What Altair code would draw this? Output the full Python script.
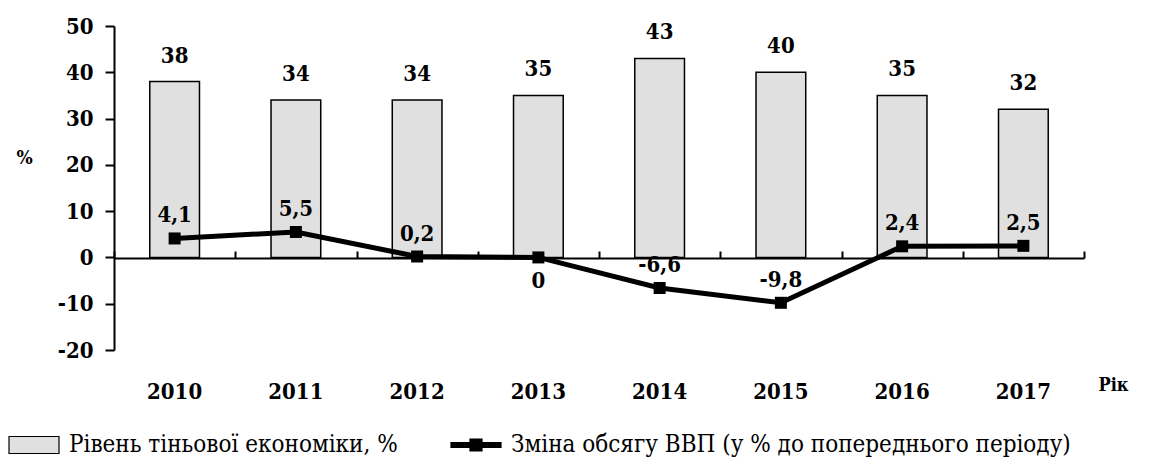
import altair as alt
import pandas as pd

years = ["2010", "2011", "2012", "2013", "2014", "2015", "2016", "2017"]
shadow = [38, 34, 34, 35, 43, 40, 35, 32]
gdp = [4.1, 5.5, 0.2, 0, -6.6, -9.8, 2.4, 2.5]
y_ticks = [-20, -10, 0, 10, 20, 30, 40, 50]
s1 = "Рівень тіньової економіки, %"
s2 = "Зміна обсягу ВВП (у % до попереднього періоду)"

df = pd.DataFrame({"year": years, "shadow": shadow, "gdp": gdp, "series": [s1] * len(years)})

FONT = "DejaVu Serif Condensed, DejaVu Serif"
FS = 22

y_scale = alt.Scale(domain=[-20, 50], nice=False, zero=False)

rect_path = "M-1,-0.34H1V0.34H-1Z"
line_path = "M-1,-0.1H1V0.1H-1Z M-0.24,-0.24H0.24V0.24H-0.24Z"

bars = alt.Chart(df).mark_bar(
    stroke="black", strokeWidth=1.5, width=alt.RelativeBandSize(0.41)
).encode(
    x=alt.X("year:O", scale=alt.Scale(paddingInner=0, paddingOuter=0),
            axis=alt.Axis(orient="bottom", title="Рік", domain=False, ticks=False,
                          labelAngle=0, labelFont=FONT, labelFontSize=FS,
                          labelFontWeight="bold", labelColor="black", labelPadding=31,
                          titleFont=FONT, titleFontSize=18, titleFontWeight="bold",
                          titleColor="black", titleX=999, titleY=35,
                          titleAlign="center", titleBaseline="middle")),
    y=alt.Y("shadow:Q", scale=y_scale,
            axis=alt.Axis(values=y_ticks, title="%", titleAngle=0, titleX=-90, titleY=131,
                          titleFont=FONT, titleFontSize=19, titleFontWeight="bold",
                          titleColor="black", titleAlign="center", titleBaseline="middle",
                          labelExpr="toString(datum.value)",
                          labelFont=FONT, labelFontSize=FS, labelFontWeight="bold",
                          labelColor="black", labelPadding=12, tickSize=9, tickWidth=2,
                          tickColor="black", domainColor="black", domainWidth=2, grid=False)),
    color=alt.Color("series:N",
                    scale=alt.Scale(domain=[s1, s2], range=["#e0e0e0", "#000000"]),
                    legend=alt.Legend(
                        title=None, orient="none", legendX=-106, legendY=393,
                        direction="horizontal", columns=2, columnPadding=50,
                        symbolSize=2500,
                        symbolType={"expr": f"datum.label == '{s1}' ? '{rect_path}' : '{line_path}'"},
                        symbolStrokeColor="black", symbolStrokeWidth=1.2,
                        labelFont=FONT, labelFontSize=24, labelColor="black",
                        labelOffset=9, labelLimit=1000, padding=0)),
)

bar_text = alt.Chart(df).mark_text(
    font=FONT, fontSize=FS, fontWeight="bold", color="black", baseline="alphabetic", dy=-19
).encode(
    x=alt.X("year:O", axis=None),
    y=alt.Y("shadow:Q", scale=y_scale),
    text=alt.Text("shadow:Q"),
)

line = alt.Chart(df).mark_line(color="black", strokeWidth=5).encode(
    x=alt.X("year:O",
            axis=alt.Axis(orient="top", offset=-232, title=None, labels=False,
                          domain=True, domainColor="black", domainWidth=2,
                          ticks=True, tickBand="extent", tickSize=7, tickWidth=2,
                          tickColor="black", grid=False)),
    y=alt.Y("gdp:Q", scale=y_scale),
)

points = alt.Chart(df).mark_square(color="black", size=144, opacity=1).encode(
    x=alt.X("year:O", axis=None),
    y=alt.Y("gdp:Q", scale=y_scale),
)

gdp_text_base = alt.Chart(df).transform_calculate(
    lbl="replace(toString(datum.gdp), '.', ',')"
)

gdp_above = gdp_text_base.transform_filter("datum.gdp != 0").mark_text(
    font=FONT, fontSize=FS, fontWeight="bold", color="black", baseline="alphabetic", dy=-16
).encode(
    x=alt.X("year:O", axis=None),
    y=alt.Y("gdp:Q", scale=y_scale),
    text="lbl:N",
)

gdp_below = gdp_text_base.transform_filter("datum.gdp == 0").mark_text(
    font=FONT, fontSize=FS, fontWeight="bold", color="black", baseline="top", dy=14
).encode(
    x=alt.X("year:O", axis=None),
    y=alt.Y("gdp:Q", scale=y_scale),
    text="lbl:N",
)

chart = alt.layer(bars, bar_text, line, points, gdp_above, gdp_below).resolve_axis(
    x="independent"
).properties(
    width=970, height=324,
    autosize=alt.AutoSizeParams(type="none"),
    padding={"left": 106, "top": 18, "right": 64, "bottom": 110},
    background="white",
).configure(font=FONT).configure_view(stroke=None)

chart.save("out.html", embed_options={"renderer": "svg", "actions": False})
